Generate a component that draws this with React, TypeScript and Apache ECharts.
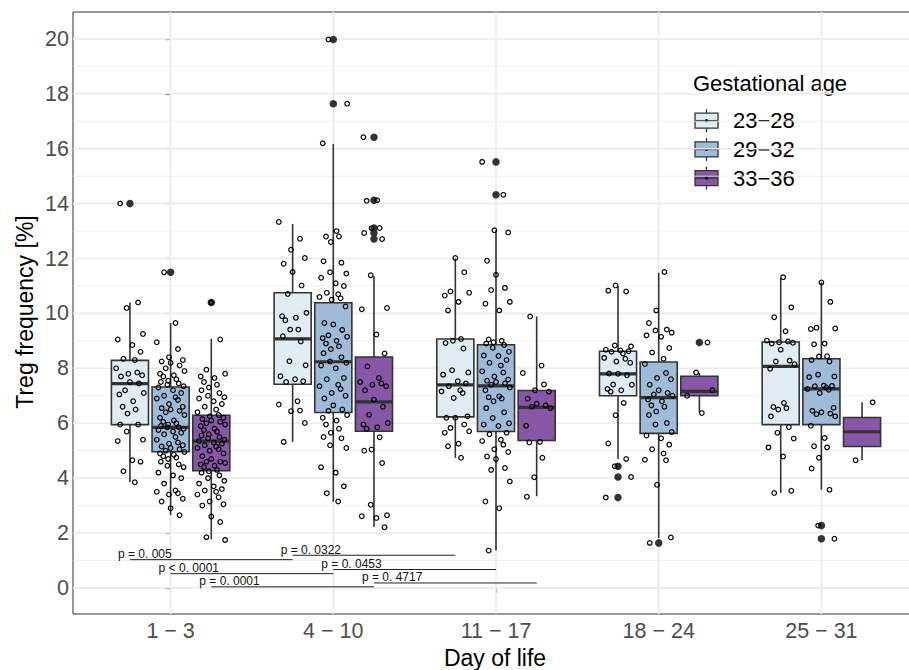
import React, { useEffect, useRef } from 'react';
import * as echarts from 'echarts';

const dayLabels = ['1 − 3', '4 − 10', '11 − 17', '18 − 24', '25 − 31'];
const dayTicks = [0, 1, 2, 3, 4];
const yTicks = [0, 2, 4, 6, 8, 10, 12, 14, 16, 18, 20];
const yMinor = [1, 3, 5, 7, 9, 11, 13, 15, 17, 19];
const ageGroups = ['23−28', '29−32', '33−36'];
const ageColors = ['#e0ecf4', '#9ebcda', '#8856a7'];

// [lower whisker, Q1, median, Q3, upper whisker] per day-of-life bin
const stats2328 = [
  [3.85, 5.95, 7.44, 8.29, 10.4],
  [5.32, 7.42, 9.07, 10.75, 13.26],
  [4.74, 6.23, 7.4, 9.07, 12.0],
  [4.7, 7.0, 7.8, 8.62, 10.99],
  [3.46, 5.95, 8.07, 8.96, 11.29],
];
const stats2932 = [
  [2.65, 4.96, 5.85, 7.32, 9.65],
  [3.14, 6.39, 8.24, 10.39, 16.17],
  [1.36, 5.7, 7.36, 8.86, 13.03],
  [1.82, 5.63, 6.93, 8.23, 11.48],
  [3.58, 5.95, 7.25, 8.35, 11.13],
];
const stats3336 = [
  [1.77, 4.27, 5.35, 6.29, 9.08],
  [2.22, 5.71, 6.78, 8.41, 11.35],
  [3.34, 5.37, 6.58, 7.19, 9.89],
  [6.37, 7.0, 7.16, 7.71, 7.83],
  [4.65, 5.15, 5.69, 6.21, 6.76],
];

const outliers2328 = [[14.0], [], [], [4.43, 4.04, 3.29], []];
const outliers2932 = [[11.5], [19.98, 17.64], [15.52, 14.32], [1.64], [2.27, 1.79]];
const outliers3336 = [[10.4], [16.42, 14.12, 13.11, 12.93, 12.71], [], [8.94], []];

// individual observations (Treg %)
const points2328 = [
  [14.0, 10.4, 10.2, 9.25, 9.05, 8.85, 8.6, 8.35, 8.3, 8.0, 7.85, 7.8, 7.75, 7.7, 7.5, 7.45, 7.2, 7.1, 7.05, 6.8, 6.6, 6.5, 6.35, 5.95, 5.95, 5.7, 5.4, 5.35, 4.65, 4.6, 4.25, 3.85],
  [13.33, 12.72, 12.32, 12.02, 11.81, 11.51, 11.02, 10.71, 10.02, 9.9, 9.84, 9.75, 9.41, 9.41, 9.17, 8.98, 8.26, 8.11, 7.71, 7.6, 7.53, 7.5, 6.8, 6.68, 6.46, 6.44, 6.01, 5.32],
  [12.02, 11.5, 10.8, 10.75, 10.65, 10.42, 10.11, 9.07, 9.0, 8.92, 8.72, 7.93, 7.85, 7.77, 7.53, 7.45, 7.35, 7.2, 7.16, 7.1, 6.92, 6.25, 6.2, 6.2, 5.95, 5.83, 5.71, 5.65, 5.25, 5.16, 4.74],
  [11.02, 10.83, 10.8, 8.83, 8.8, 8.68, 8.65, 8.62, 8.6, 8.54, 8.38, 8.35, 8.25, 8.2, 7.81, 7.8, 7.75, 7.41, 7.4, 7.25, 7.2, 7.15, 6.74, 6.29, 5.26, 4.7, 4.43, 4.04, 3.29],
  [11.32, 10.22, 9.86, 9.35, 9.01, 8.98, 8.95, 8.93, 8.9, 8.68, 8.28, 8.25, 8.15, 7.98, 6.74, 6.59, 6.55, 6.5, 6.25, 5.86, 5.65, 5.44, 5.12, 4.79, 3.54, 3.46],
];
const points2932 = [
  [11.5, 9.65, 8.95, 8.7, 8.4, 8.3, 8.25, 8.2, 8.1, 8.0, 7.9, 7.8, 7.75, 7.7, 7.6, 7.55, 7.5, 7.45, 7.4, 7.35, 7.3, 7.2, 7.1, 7.0, 6.95, 6.9, 6.85, 6.7, 6.6, 6.55, 6.5, 6.45, 6.4, 6.3, 6.2, 6.1, 6.05, 6.0, 5.95, 5.9, 5.85, 5.85, 5.8, 5.75, 5.7, 5.65, 5.6, 5.5, 5.4, 5.3, 5.25, 5.2, 5.15, 5.1, 5.05, 5.0, 4.95, 4.9, 4.85, 4.8, 4.75, 4.7, 4.6, 4.5, 4.45, 4.4, 4.2, 4.1, 4.0, 3.8, 3.55, 3.5, 3.45, 3.4, 3.25, 3.15, 2.9, 2.65],
  [19.98, 17.64, 16.2, 13.0, 12.8, 12.8, 12.6, 11.9, 11.85, 11.5, 11.45, 11.3, 11.1, 11.0, 10.75, 10.7, 10.6, 10.55, 10.5, 10.25, 9.65, 9.6, 9.4, 9.2, 9.15, 9.1, 9.0, 8.9, 8.8, 8.7, 8.55, 8.4, 8.25, 8.2, 8.1, 8.0, 7.65, 7.6, 7.4, 7.35, 7.25, 7.1, 7.0, 6.9, 6.65, 6.5, 6.45, 6.3, 6.2, 6.1, 5.95, 5.8, 5.65, 5.5, 5.45, 5.2, 5.1, 4.4, 4.2, 3.7, 3.45, 3.15],
  [15.52, 14.32, 13.03, 12.95, 11.92, 11.41, 10.93, 10.85, 10.42, 10.35, 10.11, 9.05, 9.0, 8.95, 8.9, 8.85, 8.75, 8.6, 8.47, 8.45, 8.3, 8.2, 8.1, 7.89, 7.85, 7.7, 7.59, 7.55, 7.5, 7.45, 7.4, 7.3, 7.2, 6.98, 6.95, 6.9, 6.8, 6.55, 6.4, 6.19, 6.0, 5.95, 5.9, 5.65, 5.6, 5.4, 5.35, 5.22, 5.05, 4.95, 4.79, 4.7, 4.37, 4.3, 3.88, 3.15, 2.9, 1.36],
  [11.51, 10.11, 9.65, 9.41, 9.38, 9.3, 9.2, 9.15, 8.74, 8.58, 8.35, 8.16, 7.83, 7.65, 7.6, 7.4, 7.2, 7.1, 7.05, 7.0, 6.86, 6.8, 6.65, 6.6, 6.43, 6.3, 6.01, 5.95, 5.68, 5.55, 5.45, 5.22, 5.05, 4.9, 4.67, 4.65, 3.76, 1.84, 1.64],
  [11.13, 10.42, 9.48, 9.45, 9.43, 8.9, 8.88, 8.44, 8.43, 8.3, 8.25, 7.77, 7.7, 7.68, 7.37, 7.36, 7.35, 7.3, 7.25, 7.22, 7.1, 6.56, 6.45, 6.4, 6.35, 6.33, 6.25, 5.91, 5.46, 5.16, 5.12, 4.74, 4.35, 3.58, 2.27, 1.79],
];
const points3336 = [
  [10.4, 9.05, 7.95, 7.8, 7.7, 7.65, 7.5, 7.4, 7.3, 7.2, 7.1, 7.0, 6.95, 6.9, 6.8, 6.7, 6.6, 6.5, 6.4, 6.3, 6.25, 6.2, 6.15, 6.1, 6.05, 6.0, 5.95, 5.9, 5.8, 5.75, 5.7, 5.6, 5.55, 5.5, 5.45, 5.4, 5.35, 5.3, 5.25, 5.2, 5.15, 5.1, 5.05, 5.0, 4.9, 4.8, 4.7, 4.6, 4.6, 4.55, 4.5, 4.45, 4.4, 4.3, 4.25, 4.2, 4.1, 4.0, 3.9, 3.8, 3.7, 3.6, 3.55, 3.5, 3.4, 3.3, 3.15, 3.05, 3.0, 2.6, 2.4, 1.85, 1.75],
  [16.42, 14.12, 14.1, 13.11, 13.1, 12.93, 12.71, 11.39, 10.2, 10.15, 9.23, 8.54, 8.07, 7.65, 7.5, 7.45, 7.4, 7.35, 7.2, 6.86, 6.6, 6.31, 6.01, 5.95, 5.85, 5.8, 5.49, 5.04, 5.0, 4.55, 3.03, 2.65, 2.61, 2.55, 2.21],
  [9.89, 8.1, 7.83, 7.41, 7.2, 7.15, 6.89, 6.71, 6.65, 6.6, 6.55, 5.91, 5.32, 5.3, 4.74, 4.03, 3.32],
  [8.94, 7.85, 7.2, 7.0, 6.37],
  [6.76, 4.65],
];

// pairwise comparisons between day bins within each gestational-age group
const pLabels = ['p = 0. 005', 'p < 0. 0001', 'p = 0. 0001', 'p = 0. 0322', 'p = 0. 0453', 'p = 0. 4717'];
const pFromDay = [0, 0, 0, 1, 1, 1];
const pToDay = [1, 1, 1, 2, 2, 2];
const pGroup = [0, 1, 2, 0, 1, 2];
const pBarY = [1.03, 0.52, 0.04, 1.19, 0.67, 0.18];

const allStats = [stats2328, stats2932, stats3336];
const allOutliers = [outliers2328, outliers2932, outliers3336];
const allPoints = [points2328, points2932, points3336];

const groupOffsets = [-0.25, 0, 0.25];
const boxWidth = 0.228;
const jitterPattern = [-0.06, 0.05, -0.02, 0.08, -0.075, 0.015, 0.065, -0.04, 0.03, -0.085, 0.045, -0.01, 0.075, -0.055, 0.0, 0.055, -0.03, 0.085, -0.065, 0.02, -0.045, 0.035, -0.015];

const FONT = '"Liberation Sans", Arial, Helvetica, sans-serif';
const DARK = '#333333';

export default function App() {
  const ref = useRef<HTMLDivElement>(null);

  useEffect(() => {
    if (!ref.current) return;
    const chart = echarts.init(ref.current, undefined, { renderer: 'svg' });

    const series: any[] = [];

    // background grid lines
    series.push({
      type: 'custom',
      z: 1,
      silent: true,
      data: [[0, 0]],
      renderItem: (params: any, api: any) => {
        const cs = params.coordSys;
        const children: any[] = [];
        yMinor.forEach((v) => {
          const y = api.coord([0, v])[1];
          children.push({ type: 'line', shape: { x1: cs.x, y1: y, x2: cs.x + cs.width, y2: y }, style: { stroke: '#ededed', lineWidth: 0.8 } });
        });
        yTicks.forEach((v) => {
          const y = api.coord([0, v])[1];
          children.push({ type: 'line', shape: { x1: cs.x, y1: y, x2: cs.x + cs.width, y2: y }, style: { stroke: '#ebebeb', lineWidth: 1.6 } });
        });
        dayTicks.forEach((d) => {
          const x = api.coord([d, 0])[0];
          children.push({ type: 'line', shape: { x1: x, y1: cs.y, x2: x, y2: cs.y + cs.height }, style: { stroke: '#ebebeb', lineWidth: 1.6 } });
        });
        return { type: 'group', children };
      },
    });

    // boxes
    allStats.forEach((stats, g) => {
      series.push({
        type: 'custom',
        name: ageGroups[g],
        z: 3,
        data: stats.map((s, d) => [d, ...s]),
        dimensions: ['day', 'lo', 'q1', 'med', 'q3', 'hi'],
        encode: { x: 0, y: [1, 2, 3, 4, 5] },
        renderItem: (params: any, api: any) => {
          const xc = api.value(0) + groupOffsets[g];
          const cx = api.coord([xc, 0])[0];
          const pLo = api.coord([xc, api.value(1)])[1];
          const pQ1 = api.coord([xc, api.value(2)])[1];
          const pMd = api.coord([xc, api.value(3)])[1];
          const pQ3 = api.coord([xc, api.value(4)])[1];
          const pHi = api.coord([xc, api.value(5)])[1];
          const hw = api.size([boxWidth, 0])[0] / 2;
          return {
            type: 'group',
            children: [
              { type: 'line', shape: { x1: cx, y1: pHi, x2: cx, y2: pQ3 }, style: { stroke: DARK, lineWidth: 1.6 } },
              { type: 'line', shape: { x1: cx, y1: pQ1, x2: cx, y2: pLo }, style: { stroke: DARK, lineWidth: 1.6 } },
              { type: 'rect', shape: { x: cx - hw, y: pQ3, width: 2 * hw, height: pQ1 - pQ3 }, style: { fill: ageColors[g], stroke: DARK, lineWidth: 1.6 } },
              { type: 'line', shape: { x1: cx - hw, y1: pMd, x2: cx + hw, y2: pMd }, style: { stroke: DARK, lineWidth: 3.2 } },
            ],
          };
        },
      });
    });

    // outliers
    allOutliers.forEach((outs, g) => {
      const data: number[][] = [];
      outs.forEach((vals, d) => vals.forEach((v) => data.push([d + groupOffsets[g], v])));
      series.push({
        type: 'scatter',
        z: 4,
        symbol: 'circle',
        symbolSize: 7.5,
        itemStyle: { color: DARK, opacity: 1 },
        data,
      });
    });

    // jittered observations
    allPoints.forEach((pts, g) => {
      const data: number[][] = [];
      let k = g * 7;
      pts.forEach((vals, d) =>
        vals.forEach((v) => {
          data.push([d + groupOffsets[g] + jitterPattern[k % jitterPattern.length], v]);
          k++;
        })
      );
      series.push({
        type: 'scatter',
        z: 5,
        symbol: 'circle',
        symbolSize: 4.6,
        itemStyle: { color: 'rgba(255,255,255,0)', borderColor: '#000', borderWidth: 1.2, opacity: 1 },
        data,
      });
    });

    // p-value comparison bars
    series.push({
      type: 'custom',
      z: 6,
      data: pLabels.map((_, i) => [pFromDay[i] + groupOffsets[pGroup[i]], pToDay[i] + groupOffsets[pGroup[i]], pBarY[i], i]),
      encode: { x: [0, 1], y: 2 },
      renderItem: (params: any, api: any) => {
        const a = api.coord([api.value(0), api.value(2)]);
        const b = api.coord([api.value(1), api.value(2)]);
        const idx = api.value(3);
        return {
          type: 'group',
          children: [
            { type: 'line', shape: { x1: a[0], y1: a[1], x2: b[0], y2: b[1] }, style: { stroke: '#222', lineWidth: 1 } },
            {
              type: 'text',
              x: a[0] - 12,
              y: a[1] - 5.5,
              style: { text: pLabels[idx], fill: '#111', font: `12px ${FONT}`, align: 'left', verticalAlign: 'middle' },
            },
          ],
        };
      },
    });

    const legendChildren: any[] = [];
    legendChildren.push({ type: 'rect', shape: { x: 683, y: 58, width: 187, height: 146 }, style: { fill: '#ffffff' } });
    legendChildren.push({
      type: 'text',
      x: 693,
      y: 83,
      style: { text: 'Gestational age', fill: '#000', font: `22px ${FONT}`, align: 'left', verticalAlign: 'middle' },
    });
    ageGroups.forEach((lab, i) => {
      const cy = 120.7 + i * 28.7;
      const cx = 706.5;
      legendChildren.push({ type: 'line', shape: { x1: cx, y1: cy - 11.5, x2: cx, y2: cy + 11.5 }, style: { stroke: DARK, lineWidth: 1.3 } });
      legendChildren.push({ type: 'rect', shape: { x: cx - 11.5, y: cy - 7.5, width: 23, height: 15 }, style: { fill: ageColors[i], stroke: DARK, lineWidth: 1.3 } });
      legendChildren.push({ type: 'line', shape: { x1: cx - 11.5, y1: cy, x2: cx + 11.5, y2: cy }, style: { stroke: DARK, lineWidth: 1.5 } });
      legendChildren.push({ type: 'circle', shape: { cx, cy, r: 1.6 }, style: { fill: '#000' } });
      legendChildren.push({
        type: 'text',
        x: 733,
        y: cy,
        style: { text: lab, fill: '#000', font: `22px ${FONT}`, align: 'left', verticalAlign: 'middle' },
      });
    });

    const option: any = {
      animation: false,
      backgroundColor: '#ffffff',
      textStyle: { fontFamily: FONT },
      grid: {
        left: 73,
        top: 12,
        width: 846,
        height: 602,
        show: true,
        backgroundColor: '#ffffff',
        borderColor: DARK,
        borderWidth: 1,
        containLabel: false,
      },
      xAxis: {
        type: 'value',
        min: -0.6,
        max: 4.6,
        axisLine: { show: false },
        splitLine: { show: false },
        axisTick: { show: true, customValues: dayTicks, length: 5, lineStyle: { color: DARK, width: 1.2 } },
        axisLabel: {
          customValues: dayTicks,
          formatter: (v: number) => dayLabels[Math.round(v)] ?? '',
          color: '#4d4d4d',
          fontSize: 21.5,
          fontFamily: FONT,
          margin: 6,
        },
      },
      yAxis: {
        type: 'value',
        min: -0.95,
        max: 20.98,
        axisLine: { show: false },
        splitLine: { show: false },
        axisTick: { show: true, customValues: yTicks, length: 5, lineStyle: { color: DARK, width: 1.2 } },
        axisLabel: {
          customValues: yTicks,
          color: '#4d4d4d',
          fontSize: 21.5,
          fontFamily: FONT,
          margin: 4,
        },
      },
      graphic: [
        { type: 'group', z: 100, children: legendChildren },
        {
          type: 'text',
          z: 100,
          x: 25,
          y: 312,
          rotation: Math.PI / 2,
          style: { text: 'Treg frequency [%]', fill: '#000', font: `23px ${FONT}`, align: 'center', verticalAlign: 'middle' },
        },
        {
          type: 'text',
          z: 100,
          x: 495,
          y: 658,
          style: { text: 'Day of life', fill: '#000', font: `23px ${FONT}`, align: 'center', verticalAlign: 'middle' },
        },
      ],
      series,
    };

    chart.setOption(option);
    return () => chart.dispose();
  }, []);

  return (
    <div style={{ position: 'absolute', left: 0, top: 0, width: 909, height: 670, overflow: 'hidden' }}>
      <div ref={ref} style={{ position: 'absolute', left: 0, top: 0, width: 940, height: 670 }} />
    </div>
  );
}
